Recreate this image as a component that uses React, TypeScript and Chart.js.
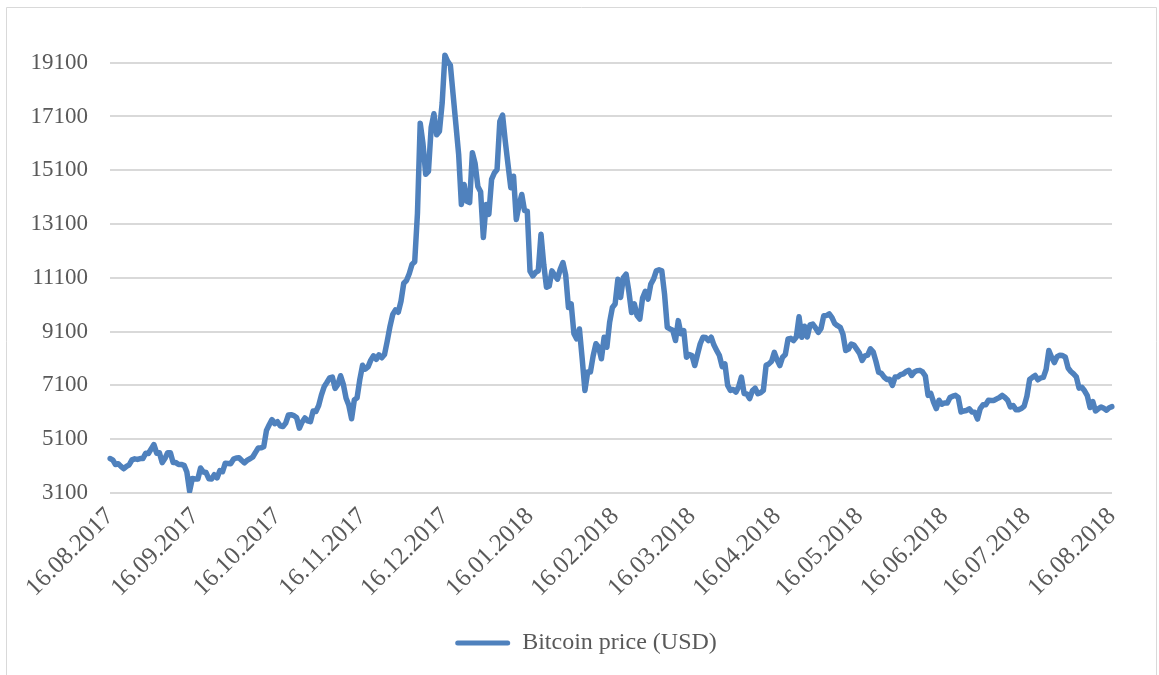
import React, { useEffect, useRef } from 'react';
import { Chart, registerables } from 'chart.js';

Chart.register(...registerables);

// Daily closing price of Bitcoin in USD, 16.08.2017 - 16.08.2018, one array per month.
const aug2017 = [4380, 4330, 4160, 4190, 4090, 4000, 4090, 4150, 4330, 4370, 4350, 4380, 4380, 4580, 4570, 4740];
const sep2017 = [4900, 4580, 4600, 4230, 4380, 4600, 4600, 4230, 4230, 4160, 4160, 4130, 3880, 3170, 3640,
  3620, 3620, 4030, 3880, 3860, 3630, 3620, 3780, 3660, 3930, 3890, 4210, 4200, 4190, 4360];
const oct2017 = [4400, 4410, 4310, 4220, 4320, 4370, 4440, 4610, 4770, 4780, 4820, 5430, 5640, 5830, 5680,
  5750, 5600, 5570, 5700, 6000, 6010, 5980, 5900, 5510, 5740, 5890, 5780, 5750, 6150, 6130, 6350];
const nov2017 = [6740, 7050, 7210, 7380, 7410, 6990, 7140, 7460, 7140, 6620, 6360, 5860, 6560, 6640, 7320,
  7850, 7710, 7790, 8040, 8200, 8070, 8240, 8130, 8250, 8750, 9300, 9740, 9910, 9820, 10230];
const dec2017 = [10900, 11000, 11250, 11600, 11700, 13500, 16850, 16100, 14950, 15060, 16700, 17200, 16420, 16550, 17600,
  19380, 19150, 19000, 17900, 16800, 15700, 13830, 14570, 13950, 13900, 15750, 15350, 14500, 14300, 12600, 13830];
const jan2018 = [13460, 14760, 15000, 15130, 16920, 17150, 16170, 15300, 14450, 14880, 13270, 13800, 14200, 13600, 13580,
  11350, 11170, 11300, 11360, 12720, 11600, 10750, 10800, 11360, 11200, 11050, 11420, 11670, 11200, 10000, 10130];
const feb2018 = [9020, 8830, 9200, 8100, 6915, 7600, 7600, 8200, 8650, 8520, 8090, 8890, 8520, 9450,
  10000, 10130, 11050, 10370, 11110, 11240, 10600, 9810, 10130, 9700, 9570, 10350, 10600, 10310];
const mar2018 = [10870, 11050, 11360, 11400, 11360, 10500, 9260, 9200, 9150, 8770, 9510, 9020, 9140, 8150, 8250,
  8210, 7840, 8250, 8650, 8890, 8880, 8770, 8890, 8600, 8400, 8210, 7800, 7900, 7100, 6915, 6950];
const apr2018 = [6850, 7050, 7410, 6800, 6780, 6610, 6900, 7000, 6790, 6830, 6915, 7850, 7900, 8000, 8330,
  8050, 7840, 8150, 8250, 8830, 8850, 8770, 8900, 9650, 8890, 9300, 8900, 9350, 9380, 9240];
const may2018 = [9070, 9220, 9690, 9700, 9760, 9620, 9400, 9320, 9260, 9000, 8400, 8450, 8640, 8600, 8450,
  8300, 8030, 8200, 8230, 8460, 8350, 8000, 7590, 7550, 7410, 7320, 7330, 7100, 7410, 7420, 7500];
const jun2018 = [7530, 7620, 7660, 7470, 7600, 7650, 7660, 7600, 7450, 6730, 6800, 6480, 6240, 6550, 6400,
  6450, 6450, 6650, 6700, 6730, 6650, 6110, 6150, 6170, 6230, 6110, 6100, 5850, 6240, 6380];
const jul2018 = [6380, 6550, 6540, 6540, 6600, 6650, 6730, 6650, 6550, 6300, 6350, 6200, 6200, 6240, 6330,
  6700, 7320, 7400, 7470, 7310, 7380, 7400, 7700, 8400, 8150, 7950, 8170, 8220, 8210, 8150, 7750];
const aug2018 = [7620, 7530, 7420, 7000, 7030, 6900, 6720, 6280, 6500, 6150, 6230, 6300, 6250, 6180, 6270, 6310];

const prices: number[] = [
  aug2017, sep2017, oct2017, nov2017, dec2017, jan2018, feb2018,
  mar2018, apr2018, may2018, jun2018, jul2018, aug2018,
].flat();

// One category per day, written as DD.MM.YYYY
const firstDay = Date.UTC(2017, 7, 16);
const pad2 = (n: number) => String(n).padStart(2, '0');
const dayLabels: string[] = prices.map((_, i) => {
  const d = new Date(firstDay + i * 86400000);
  return `${pad2(d.getUTCDate())}.${pad2(d.getUTCMonth() + 1)}.${d.getUTCFullYear()}`;
});

const yTickValues = [3100, 5100, 7100, 9100, 11100, 13100, 15100, 17100, 19100];
const seriesName = 'Bitcoin price (USD)';

const lineColor = '#4F81BD';
const textColor = '#595959';
const gridColor = '#d9d9d9';
const fontFamily = '"Liberation Serif", "Times New Roman", serif';

// White background and the thin outline of the chart box
const frame = {
  id: 'frame',
  beforeDraw(chart: Chart) {
    const { ctx, width } = chart;
    ctx.save();
    ctx.fillStyle = '#ffffff';
    ctx.fillRect(0, 0, width, chart.height);
    ctx.strokeStyle = gridColor;
    ctx.lineWidth = 1;
    ctx.beginPath();
    ctx.moveTo(6.5, chart.height + 2);
    ctx.lineTo(6.5, 7.5);
    ctx.lineTo(1156.5, 7.5);
    ctx.lineTo(1156.5, chart.height + 2);
    ctx.stroke();
    ctx.restore();
  },
};

// Centre the legend under the whole chart box rather than the padded layout area
const legendShift = {
  id: 'legendShift',
  afterLayout(chart: any) {
    const lg = chart.legend;
    if (lg) {
      lg.left += 30;
      lg.right += 30;
    }
  },
};

export default function App() {
  const canvasRef = useRef<HTMLCanvasElement | null>(null);

  useEffect(() => {
    const canvas = canvasRef.current;
    if (!canvas) return;
    const chart = new Chart(canvas, {
      type: 'line',
      data: {
        labels: dayLabels,
        datasets: [
          {
            label: seriesName,
            data: prices,
            borderColor: lineColor,
            backgroundColor: lineColor,
            borderWidth: 5.5,
            borderJoinStyle: 'round',
            borderCapStyle: 'round',
            pointRadius: 0,
            tension: 0,
          },
        ],
      },
      options: {
        responsive: false,
        animation: false,
        devicePixelRatio: 1,
        layout: { padding: { left: 0, right: 47, top: 34, bottom: 10 } },
        plugins: {
          tooltip: { enabled: false },
          legend: {
            position: 'bottom',
            labels: {
              boxWidth: 55,
              boxHeight: 5,
              padding: 10,
              color: textColor,
              font: { family: fontFamily, size: 24 },
              generateLabels: () => [
                {
                  text: seriesName,
                  fillStyle: lineColor,
                  strokeStyle: lineColor,
                  lineWidth: 0,
                  borderRadius: 2.5,
                  hidden: false,
                  datasetIndex: 0,
                  fontColor: textColor,
                },
              ],
            },
          },
        },
        scales: {
          x: {
            type: 'category',
            offset: false,
            grid: { display: false, drawTicks: false },
            border: { display: false },
            afterBuildTicks: (scale: any) => {
              scale.ticks = scale.ticks.filter((t: any) => dayLabels[t.value].startsWith('16.'));
            },
            afterFit: (scale: any) => {
              scale.height = 128;
              scale.paddingLeft = 0;
              scale.paddingRight = 0;
            },
            ticks: {
              autoSkip: false,
              minRotation: 45,
              maxRotation: 45,
              padding: 9,
              color: textColor,
              font: { family: fontFamily, size: 25 },
            },
          },
          y: {
            min: 3100,
            max: 20100,
            grid: { color: gridColor, lineWidth: 2, drawTicks: false },
            border: { display: false },
            afterBuildTicks: (scale: any) => {
              scale.ticks = yTickValues.map((v) => ({ value: v }));
            },
            afterFit: (scale: any) => {
              scale.width = 110;
            },
            ticks: {
              padding: 22,
              color: textColor,
              font: { family: fontFamily, size: 23 },
              callback: (v: any) => String(v),
            },
          },
        },
      },
      plugins: [frame, legendShift],
    });
    return () => chart.destroy();
  }, []);

  return (
    <div style={{ position: 'absolute', left: 0, top: 0, width: 1159, height: 675, background: '#fff' }}>
      <canvas ref={canvasRef} width={1159} height={675} style={{ display: 'block' }} />
    </div>
  );
}
